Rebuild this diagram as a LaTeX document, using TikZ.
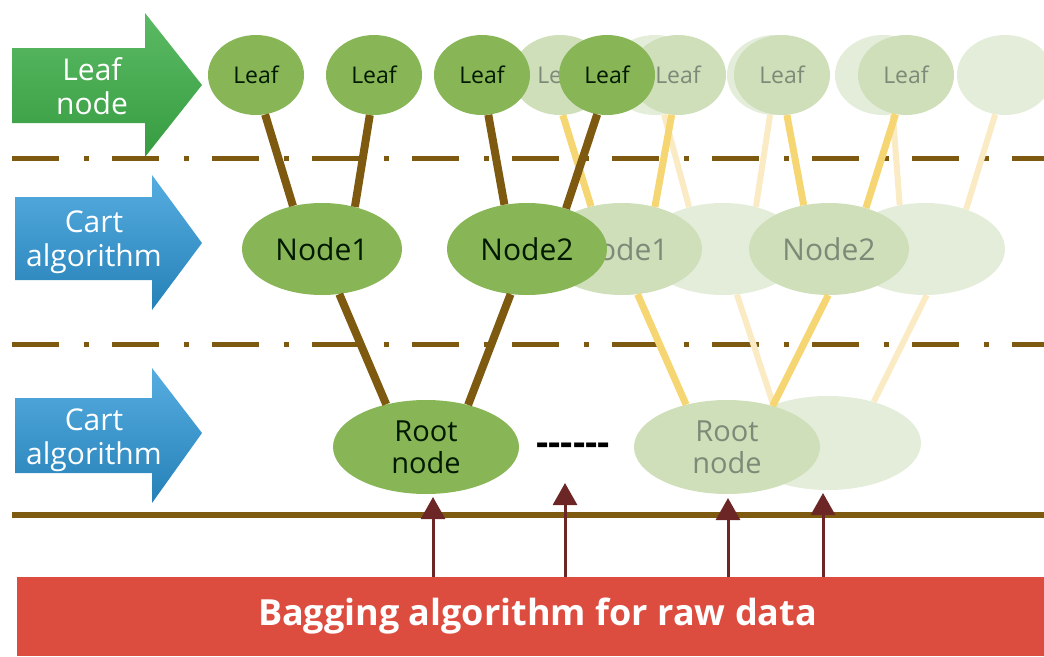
\documentclass[tikz,border=0pt]{standalone}
\usepackage{fontspec}
\setmainfont{Open Sans}
\usetikzlibrary{shapes.geometric,arrows.meta}
\definecolor{leafgreen}{HTML}{88B556}
\definecolor{fadegreen}{HTML}{CFDFBA}
\definecolor{palegreen}{HTML}{E4EDDA}
\definecolor{fadetext}{HTML}{7B8B78}
\definecolor{trunk}{HTML}{7E5A10}
\definecolor{fadetrunk}{HTML}{F6D672}
\definecolor{paletrunk}{HTML}{FBEBC4}
\definecolor{baggingred}{HTML}{DC4C3F}
\definecolor{inputred}{HTML}{6C2626}
\definecolor{armgreen}{HTML}{3DAE48}
\definecolor{armblue}{HTML}{2C98D8}

\begin{document}
\begin{tikzpicture}[x=1pt, y=-1pt,
    leaf/.style={ellipse, inner sep=0pt, minimum width=96pt, minimum height=80pt, font=\fontsize{23}{26}\selectfont},
    split/.style={ellipse, inner sep=0pt, minimum width=160pt, minimum height=92pt, font=\fontsize{30}{33}\selectfont},
    root/.style={ellipse, inner sep=0pt, minimum width=186pt, minimum height=94pt, align=center, font=\fontsize{29}{32}\selectfont},
    live/.style={fill=leafgreen, text=black!90!green},
    faded/.style={fill=fadegreen, text=fadetext},
    pale/.style={fill=palegreen},
    branch/.style={draw=trunk, line width=8pt},
    fadebranch/.style={draw=fadetrunk, line width=7pt},
    palebranch/.style={draw=paletrunk, line width=6pt},
    armlabel/.style={text=white, align=center, font=\fontsize{30}{34}\selectfont},
    levelline/.style={draw=trunk, line width=5pt, dash pattern=on 47pt off 25pt on 5pt off 23pt},
    feed/.style={draw=inputred, line width=3pt, -{Triangle[width=24pt, length=22pt]}}]
    \useasboundingbox (0,0) rectangle (1044,656);
    \clip (0,0) rectangle (1044,656);

    \shade[top color=armgreen!85!white, bottom color=armgreen!90!black]
        (12,48) -- (145,48) -- (145,13) -- (202,85) -- (145,157) -- (145,123) -- (12,123) -- cycle;
    \shade[top color=armblue!80!white, bottom color=armblue!85!black]
        (15,197) -- (152,197) -- (152,175) -- (202,243) -- (152,310) -- (152,280) -- (15,280) -- cycle;
    \shade[top color=armblue!80!white, bottom color=armblue!85!black]
        (15,398) -- (152,398) -- (152,368) -- (202,433) -- (152,503) -- (152,473) -- (15,473) -- cycle;
    \node[armlabel] (leafarm) at (92,86) {Leaf\\node};
    \node[armlabel] (cartarm1) at (94,242) {Cart\\algorithm};
    \node[armlabel] (cartarm2) at (94,440) {Cart\\algorithm};

    \draw[levelline] (12,158) -- (1044,158);
    \draw[levelline] (12,344) -- (1044,344);
    \draw[draw=trunk, line width=6pt] (12,515) -- (1044,515);

    \node[leaf, pale] (pl1) at (655,75) {};
    \node[leaf, pale] (pl2) at (775,75) {};
    \node[leaf, pale] (pl3) at (883,75) {};
    \node[leaf, pale] (pl4) at (1005,75) {};
    \node[split, pale] (pn1) at (723,249) {};
    \node[split, pale] (pn2) at (925,249) {};
    \node[root, pale] (pr) at (828,443) {};
    \path (pl1.-77) edge[palebranch] (pn1.129);
    \path (pl2.-97) edge[palebranch] (pn1.52);
    \path (pl3.-76) edge[palebranch] (pn2.120);
    \path (pl4.-104) edge[palebranch] (pn2.44);
    \path (pn1.-73) edge[palebranch] (pr.145);
    \path (pn2.-88) edge[palebranch] (pr.42);

    \node[leaf, faded] (fl1) at (560,75) {Leaf};
    \node[leaf, faded] (fl2) at (678,75) {Leaf};
    \node[leaf, faded] (fl3) at (782,75) {Leaf};
    \node[leaf, faded] (fl4) at (906,75) {Leaf};
    \node[split, faded] (fn1) at (622,249) {Node1};
    \node[split, faded] (fn2) at (829,249) {Node2};
    \node[root, faded] (fr) at (727,447) {Root\\node};
    \path (fl1.-86) edge[fadebranch] (fn1.126);
    \path (fl2.-99) edge[fadebranch] (fn1.52);
    \path (fl3.-83) edge[fadebranch] (fn2.120);
    \path (fl4.-105) edge[fadebranch] (fn2.48);
    \path (fn1.-71) edge[fadebranch] (fr.134);
    \path (fn2.-91) edge[fadebranch] (fr.42);

    \node[leaf, live] (l1) at (256,75) {Leaf};
    \node[leaf, live] (l2) at (374,75) {Leaf};
    \node[leaf, live] (l3) at (482,75) {Leaf};
    \node[leaf, live] (l4) at (607,75) {Leaf};
    \node[split, live] (n1) at (322,249) {Node1};
    \node[split, live] (n2) at (527,249) {Node2};
    \node[root, live] (r) at (426,447) {Root\\node};
    \path (l1.-77) edge[branch] (n1.124);
    \path (l2.-96) edge[branch] (n1.52);
    \path (l3.-81) edge[branch] (n2.117);
    \path (l4.-104) edge[branch] (n2.46);
    \path (n1.-69) edge[branch] (r.133);
    \path (n2.-110) edge[branch] (r.45);

    \node[font=\fontsize{38}{38}\selectfont\bfseries] (more) at (573,449) {{-}{-}{-}{-}{-}{-}};

    \node[fill=baggingred, text=white, minimum width=1027pt, minimum height=79pt, inner sep=0pt,
          font=\fontsize{36}{40}\selectfont\bfseries] (bag) at (530.5,616.5) {\hspace{14pt}Bagging algorithm for raw data};
    \coordinate (in1) at (433,497);
    \coordinate (in2) at (565,483);
    \coordinate (in3) at (728,498);
    \coordinate (in4) at (823,493);
    \draw[feed] (bag.north -| in1) -- (in1);
    \draw[feed] (bag.north -| in2) -- (in2);
    \draw[feed] (bag.north -| in3) -- (in3);
    \draw[feed] (bag.north -| in4) -- (in4);
\end{tikzpicture}
\end{document}
